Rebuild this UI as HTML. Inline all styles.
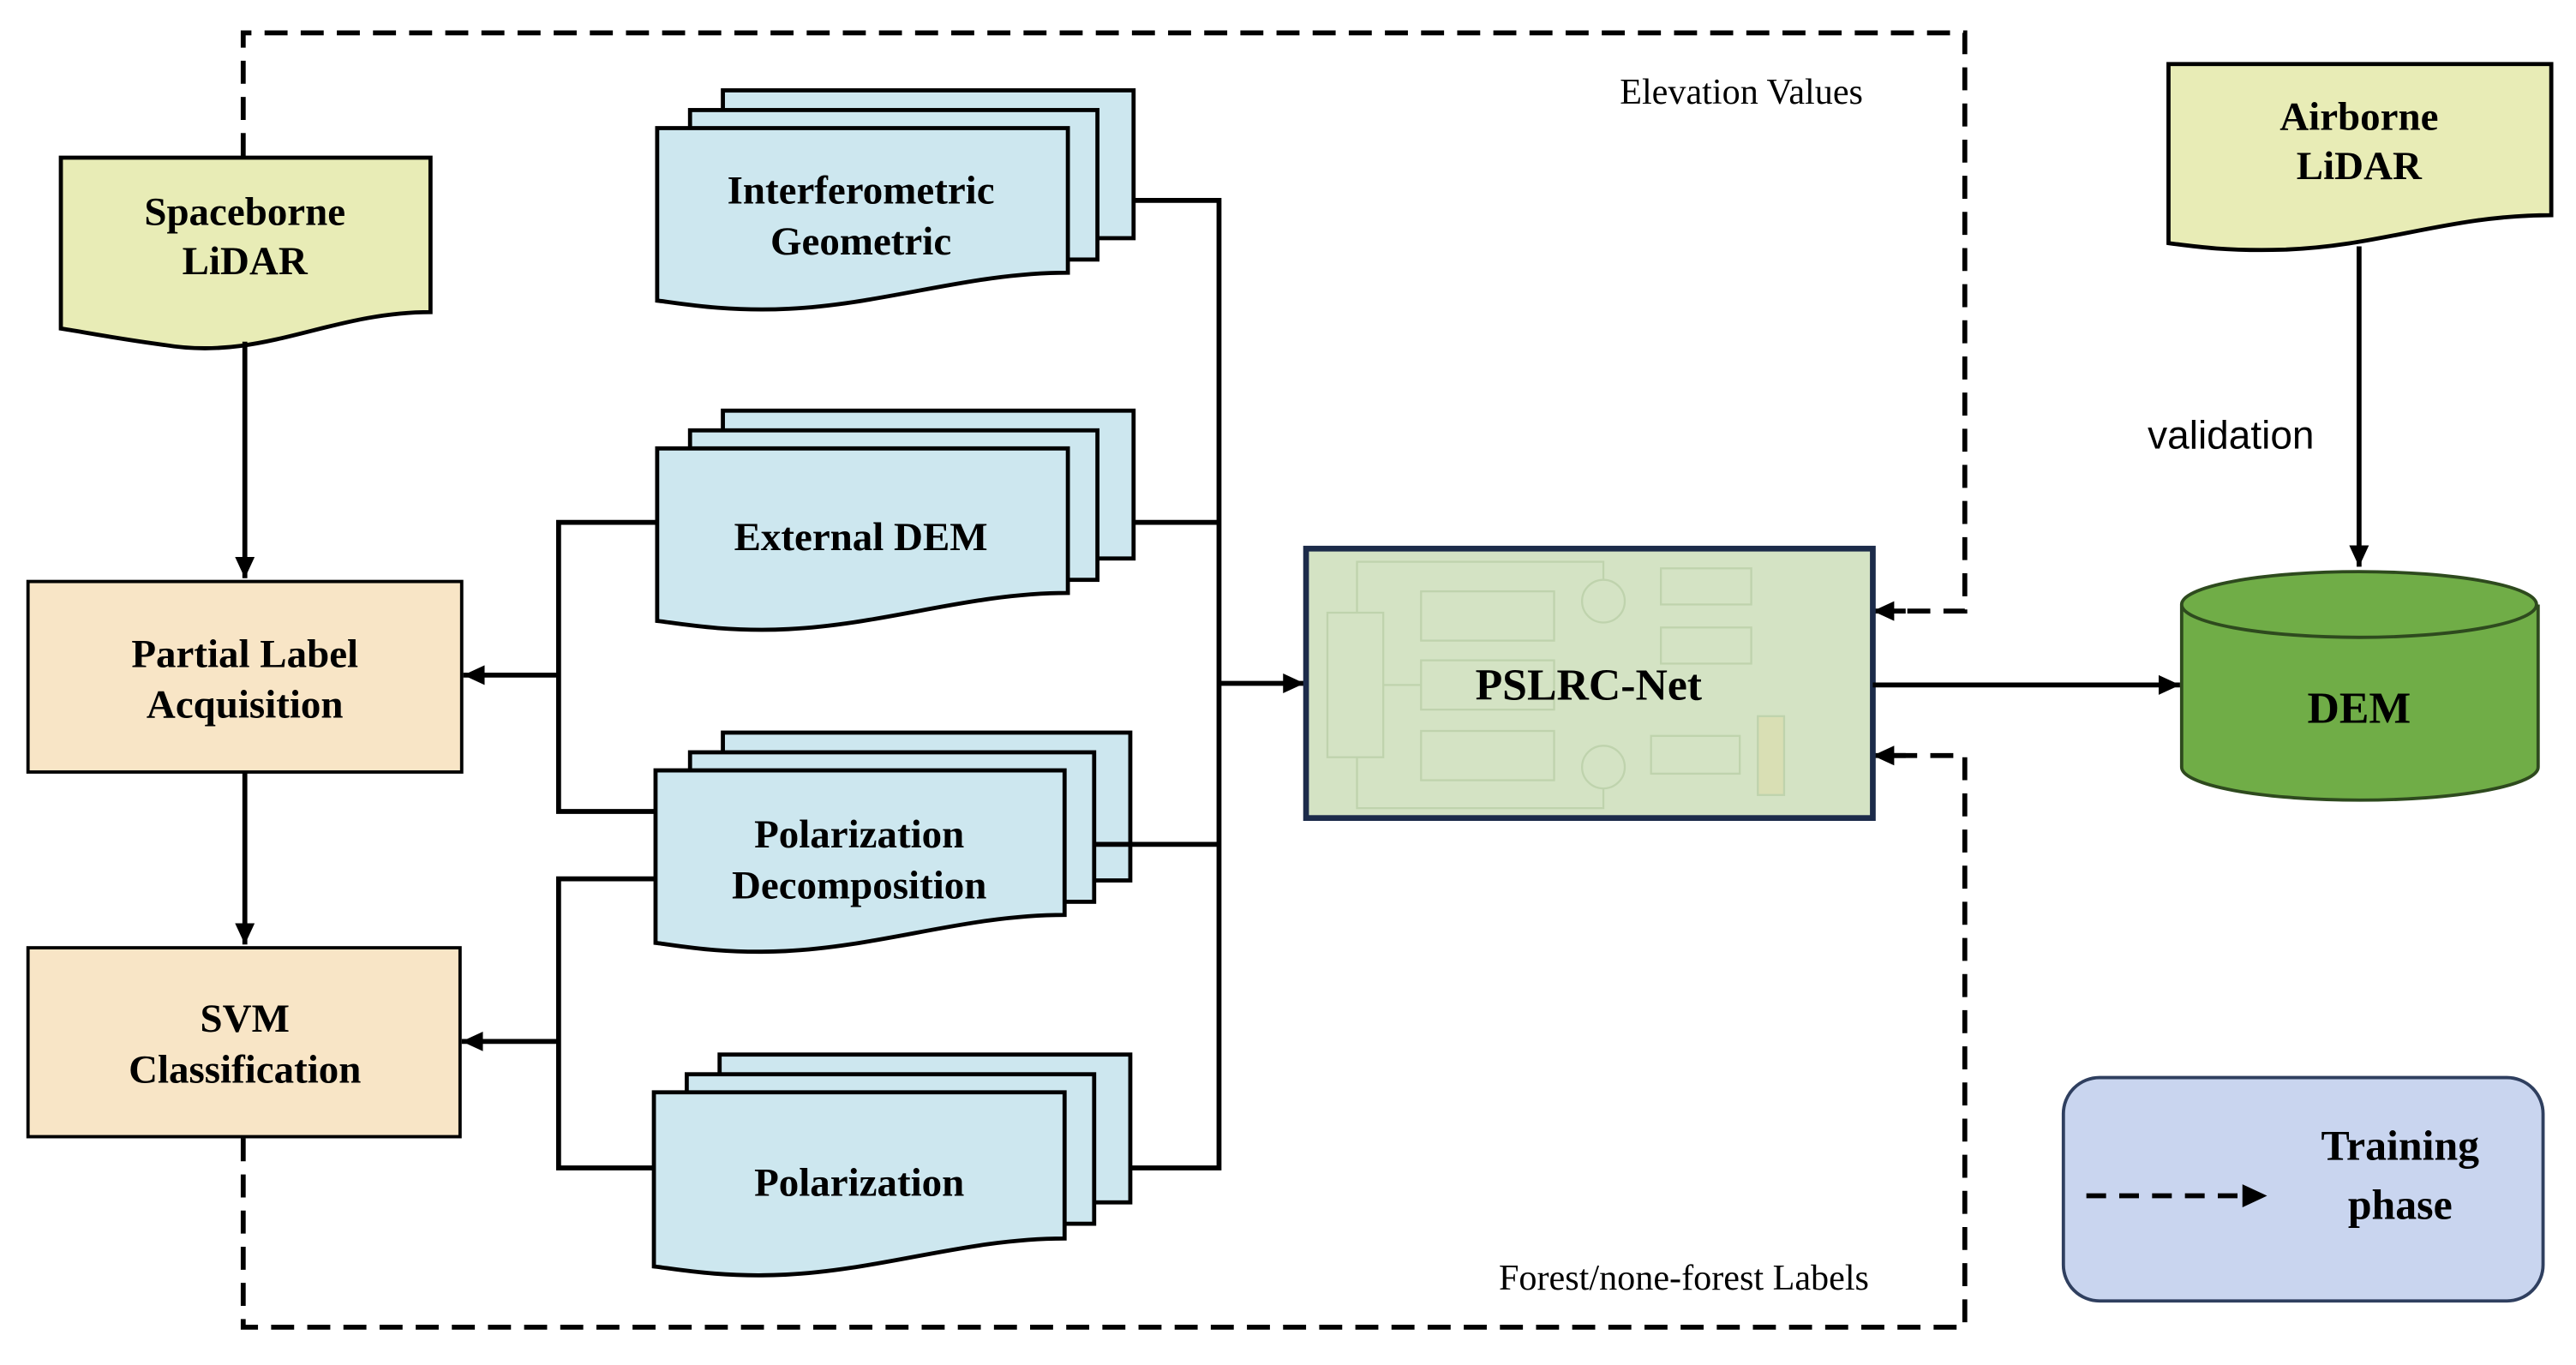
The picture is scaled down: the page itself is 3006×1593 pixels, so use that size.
<!DOCTYPE html>
<html><head><meta charset="utf-8"><style>
html,body{margin:0;padding:0;background:#fff;}
svg{display:block;}
.b{font-family:"Liberation Serif",serif;font-weight:bold;font-size:24.5px;text-anchor:middle;fill:#000;}
.n{font-family:"Liberation Serif",serif;font-size:22px;text-anchor:middle;fill:#000;}
</style></head><body>
<svg width="3006" height="1593" viewBox="0 0 1568 831" xmlns="http://www.w3.org/2000/svg">
<defs>
<marker id="ar" markerWidth="14" markerHeight="14" refX="13" refY="6" orient="auto" markerUnits="userSpaceOnUse">
<path d="M0,0 L13,6 L0,12 z" fill="#000"/></marker>
</defs>
<g fill="none" stroke="#000" stroke-width="3" stroke-dasharray="14,8">
<path d="M148,95 V20 H1196 V372 H1150"/>
<path d="M148,693 V808 H1196 V460 H1150"/>
</g>
<path d="M1160,372 L1140,372" stroke="#000" stroke-width="3" marker-end="url(#ar)"/>
<path d="M1160,460 L1140,460" stroke="#000" stroke-width="3" marker-end="url(#ar)"/>

<path d="M37,96 H262 V190 C200,190 160,220 100,210 C70,206 50,202 37,200 Z" fill="#e8ecb6" stroke="#000" stroke-width="2.5"/>
<text class="b" x="149" y="137">Spaceborne</text>
<text class="b" x="149" y="167">LiDAR</text>
<path d="M149,208 V352" stroke="#000" stroke-width="3" marker-end="url(#ar)"/>

<rect x="17" y="354" width="264" height="116" fill="#f8e5c6" stroke="#000" stroke-width="2"/>
<text class="b" x="149" y="406">Partial Label</text>
<text class="b" x="149" y="437">Acquisition</text>
<path d="M149,470 V575" stroke="#000" stroke-width="3" marker-end="url(#ar)"/>
<rect x="17" y="577" width="263" height="115" fill="#f8e5c6" stroke="#000" stroke-width="2"/>
<text class="b" x="149" y="628">SVM</text>
<text class="b" x="149" y="659">Classification</text>

<g stroke="#000" stroke-width="2.5" fill="#cde7ef">
<rect x="440" y="55" width="250" height="90"/><rect x="420" y="67" width="248" height="91"/>
<path d="M400,78 H650 V166 C590,166 540,185 480,188 C440,190 410,184 400,183 Z"/>
<rect x="440" y="250" width="250" height="90"/><rect x="420" y="262" width="248" height="91"/>
<path d="M400,273 H650 V361 C590,361 540,380 480,383 C440,385 410,379 400,378 Z"/>
<rect x="440" y="446" width="248" height="90"/><rect x="420" y="458" width="246" height="91"/>
<path d="M399,469 H648 V557 C588,557 538,576 478,579 C438,581 409,575 399,574 Z"/>
<rect x="438" y="642" width="250" height="90"/><rect x="418" y="654" width="248" height="91"/>
<path d="M398,665 H648 V754 C588,754 538,773 478,776 C438,778 408,772 398,771 Z"/>
</g>
<text class="b" x="524" y="124">Interferometric</text>
<text class="b" x="524" y="155">Geometric</text>
<text class="b" x="524" y="335">External DEM</text>
<text class="b" x="523" y="516">Polarization</text>
<text class="b" x="523" y="547">Decomposition</text>
<text class="b" x="523" y="728">Polarization</text>

<g fill="none" stroke="#000" stroke-width="3">
<path d="M690,122 H742 V711 H688"/>
<path d="M690,318 H742"/><path d="M666,514 H742"/>
<path d="M400,318 H340 V494 H399"/>
<path d="M399,535 H340 V711 H398"/>
</g>
<path d="M742,416 H794" stroke="#000" stroke-width="3" marker-end="url(#ar)"/>
<path d="M340,411 H282" stroke="#000" stroke-width="3" marker-end="url(#ar)"/>
<path d="M340,634 H281" stroke="#000" stroke-width="3" marker-end="url(#ar)"/>

<rect x="795" y="334" width="345" height="164" fill="#d4e3c4" stroke="#1c2b4a" stroke-width="3.5"/>
<g fill="none" stroke="#bfd3ad" stroke-width="1.2">
<rect x="808" y="373" width="34" height="88"/>
<rect x="865" y="360" width="81" height="30"/><rect x="865" y="402" width="81" height="30"/><rect x="865" y="445" width="81" height="30"/>
<circle cx="976" cy="366" r="13"/><circle cx="976" cy="467" r="13"/>
<rect x="1011" y="346" width="55" height="22"/><rect x="1011" y="382" width="55" height="22"/>
<rect x="1005" y="448" width="54" height="23"/>
<rect x="1070" y="436" width="16" height="48" fill="#d9dfb4"/>
<path d="M826,373 V342 H976 V353 M826,461 V492 H976 V480 M842,417 H865"/>
</g>
<text class="b" x="967" y="426" style="font-size:27px">PSLRC-Net</text>
<path d="M1140,417 H1327" stroke="#000" stroke-width="3" marker-end="url(#ar)"/>

<path d="M1328,368 V467 A108,20 0 0 0 1545,467 V368" fill="#70ad47" stroke="#2e4a1e" stroke-width="2"/>
<ellipse cx="1436" cy="368" rx="108" ry="20" fill="#70ad47" stroke="#2e4a1e" stroke-width="2"/>
<text class="b" x="1436" y="440" style="font-size:27px">DEM</text>

<path d="M1320,39 H1553 V131 C1490,131 1450,150 1390,152 C1355,153 1335,150 1320,148 Z" fill="#e8ecb6" stroke="#000" stroke-width="2.5"/>
<text class="b" x="1436" y="79">Airborne</text>
<text class="b" x="1436" y="109">LiDAR</text>
<path d="M1436,150 V345" stroke="#000" stroke-width="3" marker-end="url(#ar)"/>
<text x="1358" y="273" style="font-family:'Liberation Sans',sans-serif;font-size:24px;text-anchor:middle">validation</text>

<text class="n" x="1060" y="63">Elevation Values</text>
<text class="n" x="1025" y="785">Forest/none-forest Labels</text>

<rect x="1256" y="656" width="292" height="136" rx="22" fill="#c9d5ef" stroke="#2f3f5f" stroke-width="2"/>
<path d="M1270,728 H1366" stroke="#000" stroke-width="3" stroke-dasharray="12,8"/>
<path d="M1365,721 L1380,728 L1365,735 Z" fill="#000"/>
<text class="b" x="1461" y="706" style="font-size:26px">Training</text>
<text class="b" x="1461" y="742" style="font-size:26px">phase</text>
</svg>
</body></html>
